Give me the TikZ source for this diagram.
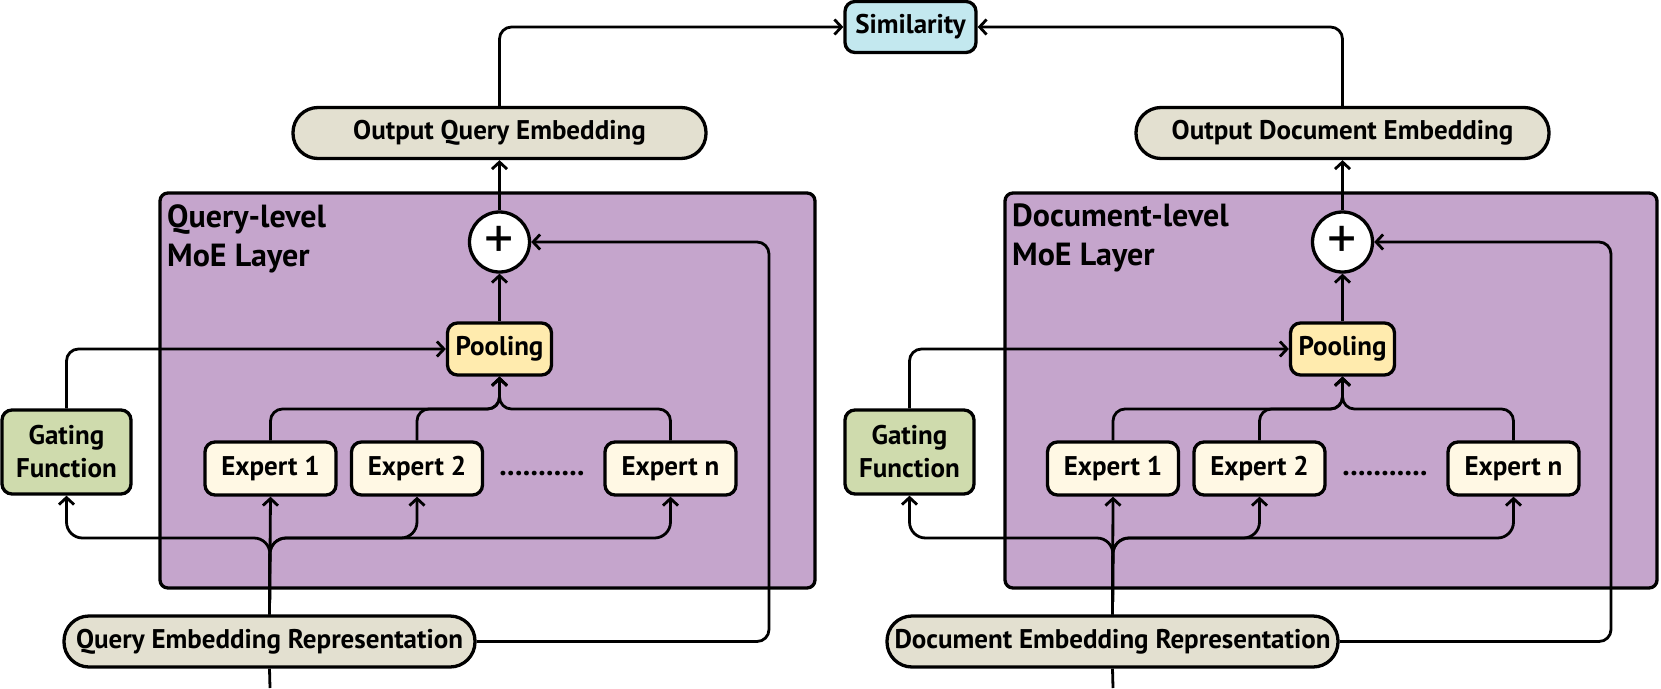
\documentclass[tikz,border=0pt]{standalone}
\usepackage{fontspec}
\setmainfont{PT Sans}
\usetikzlibrary{arrows.meta}
\definecolor{pillc}{HTML}{E3E0D0}
\definecolor{moec}{HTML}{C5A5CC}
\definecolor{poolc}{HTML}{FFEBAE}
\definecolor{expc}{HTML}{FFF8E4}
\definecolor{gatec}{HTML}{CFDBAD}
\definecolor{simc}{HTML}{C3E8EF}
\begin{document}
\begin{tikzpicture}[x=1pt,y=-1pt,
  every node/.style={font=\fontsize{27}{33}\selectfont\bfseries},
  box/.style={draw, line width=3.3pt, rounded corners=10pt, inner sep=0pt, align=center},
  pillbox/.style={box, fill=pillc, rounded corners=25pt, minimum height=51pt},
  moebox/.style={draw, line width=3.3pt, rounded corners=8pt, fill=moec, inner sep=0pt},
  poolbox/.style={box, fill=poolc, minimum width=104pt, minimum height=52pt},
  expbox/.style={box, fill=expc, minimum width=131pt, minimum height=53pt},
  gatebox/.style={box, fill=gatec, minimum width=129pt, minimum height=84pt, font=\fontsize{27}{33}\selectfont\bfseries},
  simbox/.style={box, fill=simc, minimum width=131pt, minimum height=51pt},
  plusnode/.style={draw, circle, line width=3.3pt, fill=white, minimum size=60pt, inner sep=0pt, font=\fontsize{58}{58}\selectfont},
  titletext/.style={font=\fontsize{32}{39}\selectfont\bfseries, align=left, inner sep=0pt, anchor=north west},
  dotstext/.style={anchor=base, inner sep=0pt, font=\fontsize{30}{30}\selectfont\bfseries},
  wire/.style={line width=2.8pt, rounded corners=12pt},
  conn/.style={wire, -{Straight Barb[length=7pt,width=15pt]}},
]
\useasboundingbox (0,0) rectangle (1661,688);

% ---------- query side ----------
\node[moebox, minimum width=655pt, minimum height=395pt] (qmoe) at (487.5,390.5) {};
\node[titletext] (qtitle) at (167,204) {Query-level\\MoE Layer};
\node[pillbox, minimum width=413pt] (oqe) at (499.5,133) {Output Query Embedding};
\node[plusnode] (qplus) at (499.5,242) {+};
\node[poolbox] (qpool) at (499.5,349) {Pooling};
\node[gatebox] (qgate) at (66.5,452) {Gating\\Function};
\node[expbox] (qe1) at (270.5,468.5) {Expert 1};
\node[expbox] (qe2) at (417,468.5) {Expert 2};
\node[expbox] (qen) at (670.5,468.5) {Expert n};
\node[dotstext] (qdots) at (542,475) {...........};
\node[pillbox, minimum width=411pt] (qer) at (269.5,641.5) {Query Embedding Representation};
\coordinate (qin) at (270,688);
\coordinate (qbus) at (270,538);
\coordinate (qmerge) at (499.5,409);
\coordinate (qres) at (769,242);

% ---------- document side ----------
\node[moebox, minimum width=652pt, minimum height=395pt] (dmoe) at (1331,390.5) {};
\node[titletext] (dtitle) at (1012,204) {Document-level\\MoE Layer};
\node[pillbox, minimum width=413pt] (ode) at (1342.5,133) {Output Document Embedding};
\node[plusnode] (dplus) at (1342.5,242) {+};
\node[poolbox] (dpool) at (1342.5,349) {Pooling};
\node[gatebox] (dgate) at (909.5,452) {Gating\\Function};
\node[expbox] (de1) at (1113,468.5) {Expert 1};
\node[expbox] (de2) at (1259.5,468.5) {Expert 2};
\node[expbox] (den) at (1513.5,468.5) {Expert n};
\node[dotstext] (ddots) at (1385,475) {...........};
\node[pillbox, minimum width=451pt] (der) at (1112.5,641.5) {Document Embedding Representation};
\coordinate (din) at (1113,688);
\coordinate (dbus) at (1113,538);
\coordinate (dmerge) at (1342.5,409);
\coordinate (dres) at (1611,242);

% ---------- similarity ----------
\node[simbox] (sim) at (910.5,27) {Similarity};

% ---------- query wires ----------
\draw[conn] (oqe.north) |- (sim.west);
\draw[conn] (qplus.north) -- (oqe.south);
\draw[conn] (qpool.north) -- (qplus.south);
\draw[conn] (qer.east) -| (qres) -- (qplus.east);
\draw[conn] (qgate.north) |- (qpool.west);
\draw[conn] (qe1.north) |- (qmerge) -- (qpool.south);
\draw[conn] (qe2.north) |- (qmerge) -- (qpool.south);
\draw[conn] (qen.north) |- (qmerge) -- (qpool.south);
\draw[wire] (qin) -- (qer.south);
\draw[conn] (qer.north) -- (qe1.south);
\draw[conn, rounded corners=16pt] (qer.north) -- (qbus) -| (qgate.south);
\draw[conn, rounded corners=16pt] (qer.north) -- (qbus) -| (qe2.south);
\draw[conn, rounded corners=16pt] (qer.north) -- (qbus) -| (qen.south);

% ---------- document wires ----------
\draw[conn] (ode.north) |- (sim.east);
\draw[conn] (dplus.north) -- (ode.south);
\draw[conn] (dpool.north) -- (dplus.south);
\draw[conn] (der.east) -| (dres) -- (dplus.east);
\draw[conn] (dgate.north) |- (dpool.west);
\draw[conn] (de1.north) |- (dmerge) -- (dpool.south);
\draw[conn] (de2.north) |- (dmerge) -- (dpool.south);
\draw[conn] (den.north) |- (dmerge) -- (dpool.south);
\draw[wire] (din) -- (der.south);
\draw[conn] (der.north) -- (de1.south);
\draw[conn, rounded corners=16pt] (der.north) -- (dbus) -| (dgate.south);
\draw[conn, rounded corners=16pt] (der.north) -- (dbus) -| (de2.south);
\draw[conn, rounded corners=16pt] (der.north) -- (dbus) -| (den.south);
\end{tikzpicture}
\end{document}
